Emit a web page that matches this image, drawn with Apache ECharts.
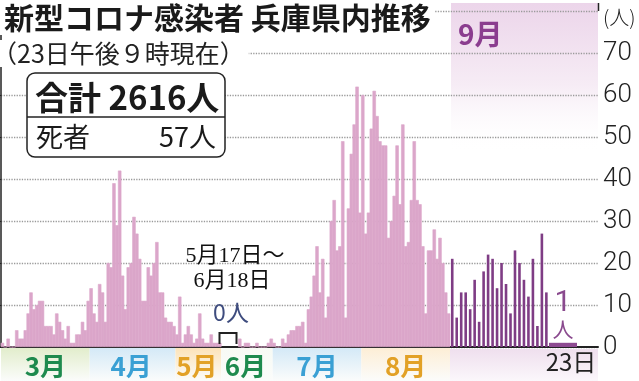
<!DOCTYPE html>
<html><head><meta charset="utf-8">
<script src="https://cdn.jsdelivr.net/npm/echarts/dist/echarts.min.js"></script>
<style>html,body{margin:0;padding:0;background:#fff}#c{width:639px;height:381px}</style>
</head><body><div id="c"></div>
<script>
// ---- data (daily new cases, Hyogo) ----
const march = [1,0,2,0,0,4,2,2,4,8,13,9,10,11,11,5,5,5,3,8,6,4,2,5,1,1,3,3,6,4,11];
const april = [14,8,6,15,13,6,20,19,39,29,42,17,9,19,20,31,27,21,11,11,19,17,20,25,13,13,7,6,6,5];
const mayFirstHalf = [3,12,1,3,5,3,1,2,8,2,1,1,3,1,1,1];      // 5/1 - 5/16
const zeroPeriodSlots = 6;                                        // 5/17 - 6/18 : 0人 (compressed)
const juneSecondHalf = [2,0,1,1,0,0,1,0,0,0,1,2];                  // 6/19 - 6/30
const july = [1,0,0,2,1,3,4,4,5,5,6,1,9,12,17,24,13,21,7,12,30,35,23,24,49,7,33,46,53,62,32];
const august = [60,27,32,52,61,55,49,48,48,26,30,36,48,34,53,24,25,35,49,35,34,24,8,23,23,28,21,26,20,13,8];
const september = [21,7,13,13,9,16,6,18,22,21,14,20,15,8,23,20,16,12,21,5,27,13]; // 9/1 - 9/22
const sep23 = [1];
const monthLabels = {3:'3月',4:'4月',5:'5月',6:'6月',7:'7月',8:'8月'};
const yMax = 80, yInterval = 10;

// ---- build categories ----
const cats = [], vals = [], monthOf = [];
function addMonth(m, startDay, arr){ arr.forEach((v,i)=>{ cats.push(m+'/'+(startDay+i)); vals.push(v); monthOf.push(m); }); }
addMonth(3,1,march); addMonth(4,1,april); addMonth(5,1,mayFirstHalf);
for (let i=0;i<zeroPeriodSlots;i++){ cats.push('zero'+i); vals.push(null); monthOf.push(6); }
addMonth(6,19,juneSecondHalf); addMonth(7,1,july); addMonth(8,1,august);
const sepCats = september.map((v,i)=>'9/'+(i+1));

const bandStarts = [], labelIdx = {};
let runStart = 0;
for (let i=0;i<=monthOf.length;i++){
  if (i===0 || i===monthOf.length || monthOf[i]!==monthOf[i-1]) {
    if (i>0) { labelIdx[Math.floor((runStart+i-1)/2)] = monthOf[i-1]; }
    if (i<monthOf.length) bandStarts.push(i);
    runStart = i;
  }
}
const bandTop = {3:'#e2edcc',4:'#d4e9f7',5:'#fce3b9',6:'#f7faf4',7:'#d4e9f7',8:'#fdeed6'};
const bandColors = bandStarts.map(i => new echarts.graphic.LinearGradient(0,0,0,1,[
  {offset:0,color:bandTop[monthOf[i]]},{offset:1,color:'#fbfcfb'}]));
const monthColor = {3:'#1e8a4e',4:'#3aa0d4',5:'#e2a126',6:'#1e8a4e',7:'#3aa0d4',8:'#e2a126'};
const rich = {};
Object.keys(monthColor).forEach(m => { rich['m'+m] = {color:monthColor[m], fontSize:26, fontWeight:'bold', fontFamily:'"Noto Sans CJK JP"'}; });

const PINK = '#dba6ca';
const JP = '"Noto Sans CJK JP", "Noto Sans", sans-serif';
const chart = echarts.init(document.getElementById('c'), null, {renderer:'canvas', width:639, height:381});
const hiddenY = g => ({gridIndex:g, type:'value', min:0, max:yMax, show:false});
chart.setOption({
  animation:false,
  backgroundColor:'#fff',
  textStyle:{fontFamily:JP},
  title:[
    {text:'新型コロナ感染者 兵庫県内推移', left:0, top:0, padding:[3,4,2,4], backgroundColor:'#fff',
     textStyle:{fontSize:30, fontWeight:'bold', color:'#1a1a1a', fontFamily:JP}},
    {text:'（23日午後９時現在）', left:-8, top:40, padding:[1,4,1,0], backgroundColor:'#fff',
     textStyle:{fontSize:25, fontWeight:'normal', color:'#222', fontFamily:JP}}
  ],
  grid:[
    {left:1, top:11, width:449, bottom:34, outerBoundsMode:'none'},
    {left:450, top:11, width:98.6, bottom:34, outerBoundsMode:'none'},
    {left:549, top:11, width:28, bottom:34, outerBoundsMode:'none'},
    {left:1, top:11, right:41, bottom:34, outerBoundsMode:'none'},
    {left:1, top:348, width:449, bottom:0, outerBoundsMode:'none'}
  ],
  xAxis:[
    {gridIndex:0, type:'category', data:cats, show:false},
    {gridIndex:1, type:'category', data:sepCats, show:false},
    {gridIndex:2, type:'category', data:['23'], axisLine:{show:false}, axisTick:{show:false}, splitLine:{show:false},
     axisLabel:{margin:3, formatter:v=>'{d|'+v+'日}', rich:{d:{fontSize:24, color:'#222', padding:[0,0,0,16], fontFamily:JP}}}},
    {gridIndex:3, type:'value', min:0, max:1, axisLine:{show:true, onZero:false, lineStyle:{color:'#222', width:2}},
     axisTick:{show:false}, axisLabel:{show:false}, splitLine:{show:false}},
    {gridIndex:4, type:'category', data:cats, position:'top', axisLine:{show:false}, axisTick:{show:false}, splitLine:{show:false},
     splitArea:{show:true, interval:(i)=>bandStarts.includes(i), areaStyle:{color:bandColors}},
     axisLabel:{inside:true, margin:5, interval:(i)=>labelIdx[i]!==undefined,
       formatter:(v,i)=>'{m'+labelIdx[i]+'|'+monthLabels[labelIdx[i]]+'}', rich:rich}}
  ],
  yAxis:[
    hiddenY(0), hiddenY(1), hiddenY(2),
    {gridIndex:3, type:'value', min:0, max:yMax, interval:yInterval, position:'right',
     axisLine:{show:true, lineStyle:{color:'#222', width:1.5}},
     axisTick:{show:true, inside:true, length:5, lineStyle:{color:'#222'}},
     splitLine:{show:true, lineStyle:{color:'#9a9a9a', type:'dotted', width:1.3}},
     axisLabel:{margin:5, fontSize:26, color:'#222', fontFamily:'Roboto', fontWeight:300,
       formatter:v=> v===yMax ? '{u|(人)}' : String(v),
       rich:{u:{fontSize:20, color:'#222', padding:[12,0,0,0], fontFamily:JP}}}},
    {gridIndex:4, type:'value', show:false}
  ],
  series:[
    {type:'bar', xAxisIndex:0, yAxisIndex:0, data:vals, barWidth:3.4, large:false,
     itemStyle:{color:PINK, borderColor:PINK, borderWidth:0.6}, silent:true},
    {type:'bar', xAxisIndex:1, yAxisIndex:1, data:september, barWidth:2.6,
     itemStyle:{color:'#7f3d85', borderWidth:0}, silent:true},
    {type:'bar', xAxisIndex:2, yAxisIndex:2, data:sep23, barWidth:'100%', itemStyle:{color:'#8d4b91', borderWidth:0}, silent:true,
     label:{show:true, position:'top', distance:3, formatter:p=>'{a|'+p.value+'}\n{b|人}',
       rich:{a:{fontSize:30, lineHeight:28, color:'#8a4a8e', fontFamily:'Roboto'}, b:{fontSize:21, lineHeight:22, color:'#8a4a8e', fontFamily:JP}}}}
  ],
  graphic:[
    {type:'rect', z:-1, shape:{x:451, y:3, width:147, height:150},
     style:{fill:new echarts.graphic.LinearGradient(0,0,0,1,[{offset:0,color:'#ecd5ea'},{offset:0.55,color:'#f6ecf5'},{offset:1,color:'rgba(255,255,255,0)'}])}},
    {type:'rect', z:-1, shape:{x:450, y:349, width:148, height:32},
     style:{fill:new echarts.graphic.LinearGradient(0,0,0,1,[{offset:0,color:'#efdfee'},{offset:1,color:'#fbf7fb'}])}},
    {type:'line', z:5, shape:{x1:598.5, y1:3, x2:598.5, y2:11}, style:{stroke:'#222', lineWidth:1.5}},
    {type:'text', z:50, x:458, y:34, style:{text:'9月', font:'bold 28px "Noto Sans CJK JP"', fill:'#8b3d8f', align:'left', verticalAlign:'middle', textAlign:'left', textVerticalAlign:'middle'}},
    {type:'rect', z:50, shape:{x:27, y:73, width:198, height:84, r:8}, style:{fill:'#fff', stroke:'#222', lineWidth:1.5}},
    {type:'line', z:51, shape:{x1:27, y1:117, x2:225, y2:117}, style:{stroke:'#222', lineWidth:1.5}},
    {type:'text', z:52, x:35, y:97, style:{text:'合計 2616人', font:'bold 33px "Noto Sans CJK JP"', fill:'#1a1a1a', align:'left', verticalAlign:'middle', textAlign:'left', textVerticalAlign:'middle'}},
    {type:'text', z:52, x:36, y:137, style:{text:'死者', font:'27px "Noto Sans CJK JP"', fill:'#1a1a1a', align:'left', verticalAlign:'middle', textAlign:'left', textVerticalAlign:'middle'}},
    {type:'text', z:52, x:216, y:137, style:{text:'57人', font:'27px "Noto Sans CJK JP"', fill:'#1a1a1a', align:'right', verticalAlign:'middle', textAlign:'right', textVerticalAlign:'middle'}},
    {type:'text', z:52, x:235, y:256, style:{text:'5月17日～', font:'22px "Liberation Serif", "DejaVu Serif", "Noto Sans CJK JP"', fill:'#111', align:'center', verticalAlign:'middle', textAlign:'center', textVerticalAlign:'middle'}},
    {type:'text', z:52, x:232, y:281, style:{text:'6月18日', font:'22px "Liberation Serif", "DejaVu Serif", "Noto Sans CJK JP"', fill:'#111', align:'center', verticalAlign:'middle', textAlign:'center', textVerticalAlign:'middle'}},
    {type:'text', z:52, x:231, y:312, style:{text:'0人', font:'23px "Noto Sans CJK JP"', fill:'#3e4c7e', align:'center', verticalAlign:'middle', textAlign:'center', textVerticalAlign:'middle'}},
    {type:'polyline', z:52, shape:{points:[[219.5,344],[219.5,333],[236.5,333],[236.5,344]]}, style:{stroke:'#222', lineWidth:2, fill:null}}
  ]
});
</script></body></html>
